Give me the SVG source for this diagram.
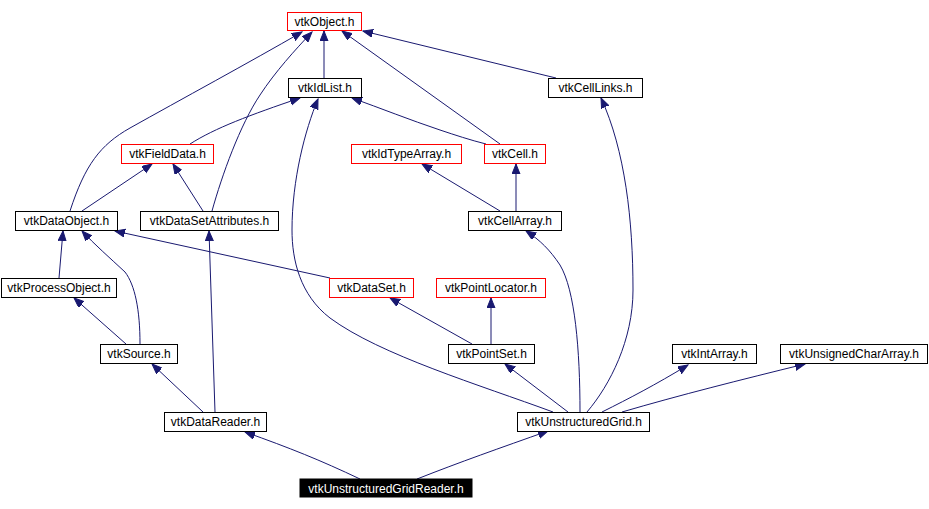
<svg xmlns="http://www.w3.org/2000/svg" width="929" height="509" viewBox="0 0 929 509">
<style>
.n rect{fill:#fff;stroke:#000;stroke-width:1}
.n.r rect{stroke:#ff0000}
.n.cur rect{fill:#000;stroke:#000}
.n text{font-family:"Liberation Sans",Arial,sans-serif;font-size:12px;fill:#000;text-anchor:middle}
.n.cur text{fill:#fff}
#edges path{fill:none;stroke:#191970;stroke-width:1;marker-end:url(#ah)}
</style>
<defs>
<marker id="ah" markerUnits="userSpaceOnUse" markerWidth="11" markerHeight="9" refX="10" refY="4" orient="auto">
<path d="M0,0 L10,4 L0,8 z" fill="#191970" stroke="#191970" stroke-width="1"/>
</marker>
</defs>
<rect width="929" height="509" fill="#fff"/>
<g id="edges">
<path d="M324,78 L324,31"/>
<path d="M556,78 L363,31"/>
<path d="M500,144 L342,31"/>
<path d="M70,211 C85,165 100,145 130,128 C180,100 250,62 302,32"/>
<path d="M212,211 C222,175 240,125 260,95 C275,72 295,50 312,32"/>
<path d="M190,144 C215,128 250,115 300,98"/>
<path d="M486,144 C470,140 455,135 440,130 C410,120 380,108 352,98"/>
<path d="M553,412 C480,385 380,355 330,318 C300,295 292,260 292,230 C292,180 305,130 318,99"/>
<path d="M587,412 C610,385 633,340 633,290 C633,220 625,150 601,98"/>
<path d="M580,412 C580,350 575,290 560,265 C550,250 540,240 526,231"/>
<path d="M500,211 L422,164"/>
<path d="M516,211 L516,164"/>
<path d="M82,211 L152,164"/>
<path d="M203,211 L173,164"/>
<path d="M59,278 L63,231"/>
<path d="M140,344 C140,310 135,285 125,272 C110,258 95,245 82,231"/>
<path d="M330,278 L115,231"/>
<path d="M126,344 L74,298"/>
<path d="M215,412 L209,231"/>
<path d="M203,412 L152,364"/>
<path d="M472,344 L390,298"/>
<path d="M491,344 L491,298"/>
<path d="M568,412 L505,364"/>
<path d="M602,412 C630,398 655,385 688,365"/>
<path d="M622,412 C680,395 740,380 805,364"/>
<path d="M360,479 C320,460 290,448 245,432"/>
<path d="M417,479 C460,462 500,448 548,431"/>
</g>
<g id="vtkObject" class="n r"><rect x="287.5" y="12.5" width="74" height="18"/><text x="324.5" y="26">vtkObject.h</text></g>
<g id="vtkIdList" class="n"><rect x="288.5" y="78.5" width="73" height="19"/><text x="325" y="92">vtkIdList.h</text></g>
<g id="vtkCellLinks" class="n"><rect x="548.5" y="78.5" width="94" height="19"/><text x="595.5" y="92">vtkCellLinks.h</text></g>
<g id="vtkFieldData" class="n r"><rect x="121.5" y="144.5" width="92" height="19"/><text x="167.5" y="158">vtkFieldData.h</text></g>
<g id="vtkIdTypeArray" class="n r"><rect x="351.5" y="144.5" width="110" height="19"/><text x="406.5" y="158">vtkIdTypeArray.h</text></g>
<g id="vtkCell" class="n r"><rect x="484.5" y="144.5" width="61" height="19"/><text x="515" y="158">vtkCell.h</text></g>
<g id="vtkDataObject" class="n"><rect x="15.5" y="211.5" width="102" height="19"/><text x="66.5" y="225">vtkDataObject.h</text></g>
<g id="vtkDataSetAttributes" class="n"><rect x="140.5" y="211.5" width="138" height="19"/><text x="209.5" y="225">vtkDataSetAttributes.h</text></g>
<g id="vtkCellArray" class="n"><rect x="468.5" y="211.5" width="93" height="19"/><text x="515" y="225">vtkCellArray.h</text></g>
<g id="vtkProcessObject" class="n"><rect x="1.5" y="278.5" width="115" height="19"/><text x="59" y="292">vtkProcessObject.h</text></g>
<g id="vtkDataSet" class="n r"><rect x="329.5" y="278.5" width="84" height="19"/><text x="371.5" y="292">vtkDataSet.h</text></g>
<g id="vtkPointLocator" class="n r"><rect x="436.5" y="278.5" width="109" height="19"/><text x="491" y="292">vtkPointLocator.h</text></g>
<g id="vtkSource" class="n"><rect x="100.5" y="344.5" width="77" height="19"/><text x="139" y="358">vtkSource.h</text></g>
<g id="vtkPointSet" class="n"><rect x="448.5" y="344.5" width="86" height="19"/><text x="491.5" y="358">vtkPointSet.h</text></g>
<g id="vtkIntArray" class="n"><rect x="672.5" y="344.5" width="84" height="19"/><text x="714.5" y="358">vtkIntArray.h</text></g>
<g id="vtkUnsignedCharArray" class="n"><rect x="780.5" y="344.5" width="147" height="19"/><text x="854" y="358">vtkUnsignedCharArray.h</text></g>
<g id="vtkDataReader" class="n"><rect x="164.5" y="412.5" width="102" height="19"/><text x="215.5" y="426">vtkDataReader.h</text></g>
<g id="vtkUnstructuredGrid" class="n"><rect x="517.5" y="412.5" width="132" height="19"/><text x="583.5" y="426">vtkUnstructuredGrid.h</text></g>
<g id="vtkUnstructuredGridReader" class="n cur"><rect x="300" y="479" width="172" height="18"/><text x="386" y="492.5">vtkUnstructuredGridReader.h</text></g>
</svg>
